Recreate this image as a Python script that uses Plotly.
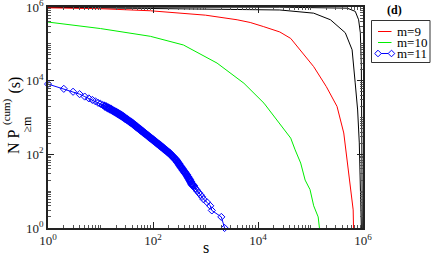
import plotly.graph_objects as go

# ---------------- data ----------------
m7_s = [1, 2.6e4, 5.0e5, 7.13e5, 8.25e5, 8.9e5, 9.3e5, 9.5e5, 9.7e5]
m7_y = [9.9e5, 9.9e5, 9.3e5, 7.6e5, 4.5e5, 2.0e5, 2.4e4, 132, 1]

m8_s = [1, 7.1e3, 2.6e4, 1.15e5, 2.4e5, 4.6e5, 6.2e5, 7.1e5, 7.9e5, 8.5e5, 9.1e5, 9.3e5]
m8_y = [9.8e5, 8.7e5, 8.3e5, 6.8e5, 4.5e5, 2.0e5, 6.9e4, 8.7e3, 1.6e3, 204, 5.8, 1]

m9_s = [1, 10, 89, 1.0e3, 4.0e3, 7.1e3, 1.26e4, 2.6e4, 4.2e4, 6.3e4, 1.15e5,
        2.0e5, 3.2e5, 4.3e5, 5.0e5, 5.75e5, 6.5e5, 6.6e5]
m9_y = [9.5e5, 9.0e5, 7.9e5, 6.0e5, 4.5e5, 3.8e5, 2.95e5, 2.1e5, 1.4e5, 6.9e4, 2.4e4,
        6.9e3, 2.0e3, 380, 71, 13, 3.1, 1]

m10_s = [1, 10, 89, 380, 1660, 5400, 1.3e4, 2.6e4, 4.2e4, 5.1e4, 6.5e4, 7.9e4,
         9.8e4, 1.15e5, 1.4e5, 1.48e5]
m10_y = [3.9e5, 2.6e5, 1.6e5, 9.3e4, 3.0e4, 8.5e3, 2.45e3, 650, 275, 132, 58, 20,
         11, 4, 2, 1]

m11_s = [1, 2, 3, 4, 5, 6, 7, 8, 9, 10, 11, 12, 13, 14, 15, 16, 17, 18, 19, 20,
         21, 22, 23, 24, 25, 26, 27, 28, 29, 30, 32, 34, 36, 38, 40, 42, 44, 46, 48,
         50, 53, 56, 59, 62, 65, 68, 71, 75, 79, 83, 87, 91, 96, 101, 106, 111, 117,
         123, 129, 135, 142, 149, 156, 164, 172, 181, 190, 200, 210, 220, 231, 243,
         255, 268, 281, 295, 310, 325, 341, 358, 376, 395, 415, 436, 458, 481, 500,
         520, 545, 560, 590, 610, 640, 670, 700, 750, 800, 860, 920, 1070, 1230,
         1320, 2000, 2310]
m11_y = [8100, 6000, 5000, 4300, 3700, 3300, 3000, 2750, 2500, 2350, 2180, 2040,
         1930, 1820, 1730, 1650, 1560, 1490, 1420, 1360,
         1310, 1260, 1210, 1170, 1130, 1080, 1045, 1010, 973, 940, 880, 830, 780,
         740, 705, 667, 632, 600, 571, 545, 510, 479, 450, 426, 403, 383, 365, 343,
         323, 305, 289, 275, 259, 245, 232, 220, 207, 195, 185, 176, 166, 157, 149,
         140, 132, 125, 118, 111, 105, 98, 91, 84, 78.5, 73, 68, 61, 55.5, 50, 45,
         41, 37, 33.6, 30.5, 27.7, 24.8, 22, 20,
         18, 16, 15, 14, 13, 12, 11, 10, 9, 8, 7, 6, 5, 4, 3, 2, 1]

major_vals = [1, 1e2, 1e4, 1e6]
major_text = ["10<sup>0</sup>", "10<sup>2</sup>", "10<sup>4</sup>", "10<sup>6</sup>"]

legend_names = ["m=9", "m=10", "m=11"]

# ---------------- layout helpers ----------------
W, H = 431, 256
L, R, T, B = 48, 363, 7, 228
def px(x):
    return (x - L) / (R - L)
def py(y):
    return (B - y) / (B - T)

minor_vals = [k * 10 ** d for d in range(0, 6) for k in range(1, 10)
              if not (k == 1 and d % 2 == 0)]

FONT = "Liberation Serif"
AX = "#222222"

# thicker outlines where the diamonds pile up into a solid band
blue_lw = [1.0 if s < 12 else (1.6 if s < 600 else 1.0) for s in m11_s]

fig = go.Figure()
fig.add_trace(go.Scatter(x=m7_s, y=m7_y, mode="lines", line=dict(color="black", width=1),
                         showlegend=False))
fig.add_trace(go.Scatter(x=m8_s, y=m8_y, mode="lines", line=dict(color="black", width=1),
                         showlegend=False))
fig.add_trace(go.Scatter(x=m9_s, y=m9_y, mode="lines", line=dict(color="#ff0000", width=1),
                         name=legend_names[0], showlegend=False))
fig.add_trace(go.Scatter(x=m10_s, y=m10_y, mode="lines", line=dict(color="#00ee00", width=1),
                         name=legend_names[1], showlegend=False))
fig.add_trace(go.Scatter(x=m11_s, y=m11_y, mode="lines+markers",
                         line=dict(color="#0000ff", width=1),
                         marker=dict(symbol="diamond-open", size=5.5, color="#0000ff",
                                     line=dict(width=blue_lw, color="#0000ff")),
                         name=legend_names[2], showlegend=False, cliponaxis=False))

axis_common = dict(
    type="log", range=[0, 6], showgrid=False, zeroline=False, automargin=False,
    showline=True, linecolor=AX, linewidth=1.5, mirror="ticks",
    ticks="inside", ticklen=6, tickwidth=1, tickcolor=AX,
    tickmode="array", tickvals=major_vals, ticktext=major_text,
    ticklabeloverflow="allow",
    tickfont=dict(family=FONT, size=13, color="#222"),
    minor=dict(tickmode="array", tickvals=minor_vals, ticks="inside", ticklen=3,
               tickwidth=1, tickcolor="#555", showgrid=False),
)
fig.update_xaxes(**axis_common)
fig.update_yaxes(**axis_common)

ann = []
def add_text(text, x, y, size, angle=0, xanchor="center", bold=False):
    ann.append(dict(text=("<b>%s</b>" % text) if bold else text, xref="paper", yref="paper",
                    x=px(x), y=py(y), xanchor=xanchor, yanchor="middle", showarrow=False,
                    textangle=angle, font=dict(family=FONT, size=size, color="black")))

# axis titles
add_text("s", 205.5, 248, 16)
add_text("N P", 13.5, 141.5, 16, angle=-90)
add_text("(s)", 14.5, 85, 16, angle=-90)
add_text("(cum)", 6, 112, 11, angle=-90)
add_text("≥m", 26, 124.5, 12, angle=-90)
# panel label
add_text("(d)", 394, 10, 12, bold=True)

# manual legend
shapes = [dict(type="rect", xref="paper", yref="paper", x0=px(371.5), x1=px(430),
               y0=py(62.5), y1=py(20.5), line=dict(color="#333", width=1),
               fillcolor="white", layer="above")]
rows = [31.5, 42.5, 53.5]
cols = ["#ff0000", "#00ee00", "#0000ff"]
for name, yy, c in zip(legend_names, rows, cols):
    shapes.append(dict(type="line", xref="paper", yref="paper", x0=px(378), x1=px(391.5),
                       y0=py(yy), y1=py(yy), line=dict(color=c, width=1), layer="above"))
    add_text(name, 395, yy, 13, xanchor="left")
for xx in (378, 391.5):
    d = 3.3
    pts = [(xx, 53.5 - d), (xx + d, 53.5), (xx, 53.5 + d), (xx - d, 53.5)]
    path = "M " + " L ".join("%f,%f" % (px(a), py(b)) for a, b in pts) + " Z"
    shapes.append(dict(type="path", xref="paper", yref="paper", path=path,
                       line=dict(color="#0000ff", width=1), fillcolor="white", layer="above"))

fig.update_layout(
    width=W, height=H,
    margin=dict(l=L, r=W - R, t=T, b=H - B, pad=0),
    paper_bgcolor="white", plot_bgcolor="white",
    showlegend=False, annotations=ann, shapes=shapes,
)

fig.write_html("out.html", config={"displayModeBar": False},
               post_script="document.body.style.margin='0px';")
